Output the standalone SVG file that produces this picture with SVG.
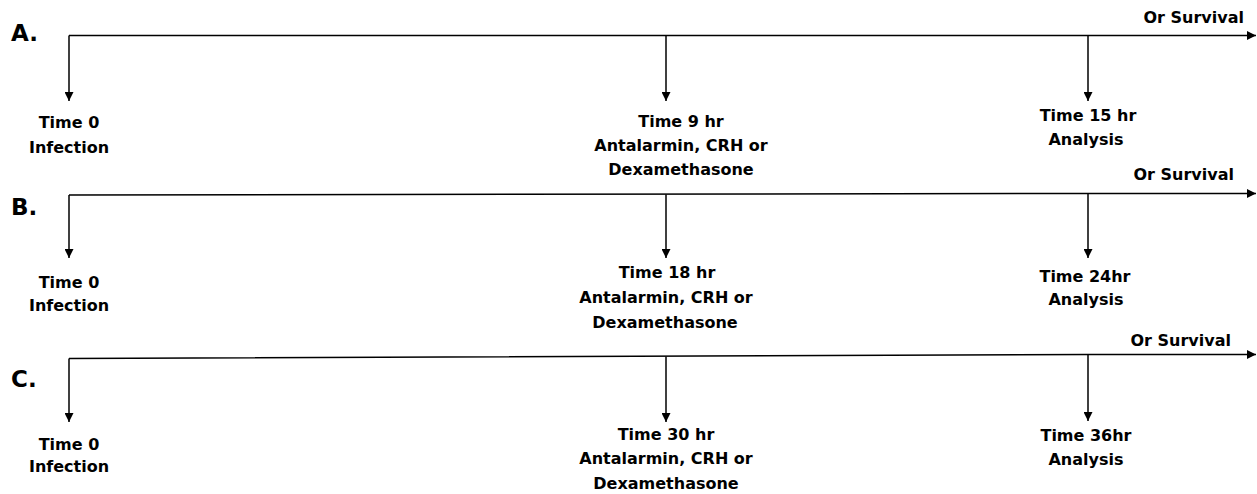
<svg xmlns="http://www.w3.org/2000/svg" width="1257" height="494" viewBox="0 0 1257 494">
<style>
text{font-family:"DejaVu Sans","Liberation Sans",sans-serif;font-weight:bold;font-size:16px;fill:#000;text-anchor:middle}
text.lbl{font-size:23px;text-anchor:start}
text.end{text-anchor:end}
.c{fill:none;stroke:#000;stroke-width:1.5}
</style>
<defs>
<marker id="ah" viewBox="0 0 10 10" refX="10" refY="5" markerWidth="9" markerHeight="9" markerUnits="userSpaceOnUse" orient="auto"><path d="M0,0L10,5L0,10z" fill="#000"/></marker>
</defs>
<rect width="1257" height="494" fill="#fff"/>
<g id="connectors">
<path class="c" d="M69,35.5H1256" marker-end="url(#ah)"/>
<path class="c" d="M69,35.5V101" marker-end="url(#ah)"/>
<path class="c" d="M666,35.5V101" marker-end="url(#ah)"/>
<path class="c" d="M1088,35.5V101" marker-end="url(#ah)"/>
<path class="c" d="M69,195L1088,193.5H1256" marker-end="url(#ah)"/>
<path class="c" d="M69,195V258" marker-end="url(#ah)"/>
<path class="c" d="M666,194.5V258" marker-end="url(#ah)"/>
<path class="c" d="M1088,193.5V258" marker-end="url(#ah)"/>
<path class="c" d="M69,358.5L1088,354.5H1256" marker-end="url(#ah)"/>
<path class="c" d="M69,358.5V422" marker-end="url(#ah)"/>
<path class="c" d="M666,356.5V422" marker-end="url(#ah)"/>
<path class="c" d="M1088,354.5V421" marker-end="url(#ah)"/>
</g>
<g id="labelA"><text class="lbl" x="11" y="41">A.</text></g>
<g id="labelB"><text class="lbl" x="11" y="215">B.</text></g>
<g id="labelC"><text class="lbl" x="11" y="387">C.</text></g>
<g id="A-t0"><text x="69" y="128">Time 0</text><text x="69" y="153">Infection</text></g>
<g id="A-t9"><text x="681" y="127">Time 9 hr</text><text x="681" y="151">Antalarmin, CRH or</text><text x="681" y="175">Dexamethasone</text></g>
<g id="A-t15"><text x="1088" y="121">Time 15 hr</text><text x="1086" y="145">Analysis</text></g>
<g id="A-surv"><text class="end" x="1244" y="23">Or Survival</text></g>
<g id="B-t0"><text x="69" y="288">Time 0</text><text x="69" y="311">Infection</text></g>
<g id="B-t18"><text x="667" y="278">Time 18 hr</text><text x="666" y="303">Antalarmin, CRH or</text><text x="665" y="328">Dexamethasone</text></g>
<g id="B-t24"><text x="1085" y="282">Time 24hr</text><text x="1086" y="305">Analysis</text></g>
<g id="B-surv"><text class="end" x="1234" y="180">Or Survival</text></g>
<g id="C-t0"><text x="69" y="450">Time 0</text><text x="69" y="472">Infection</text></g>
<g id="C-t30"><text x="666" y="440">Time 30 hr</text><text x="666" y="464">Antalarmin, CRH or</text><text x="666" y="489">Dexamethasone</text></g>
<g id="C-t36"><text x="1086" y="441">Time 36hr</text><text x="1086" y="465">Analysis</text></g>
<g id="C-surv"><text class="end" x="1231" y="346">Or Survival</text></g>
</svg>
